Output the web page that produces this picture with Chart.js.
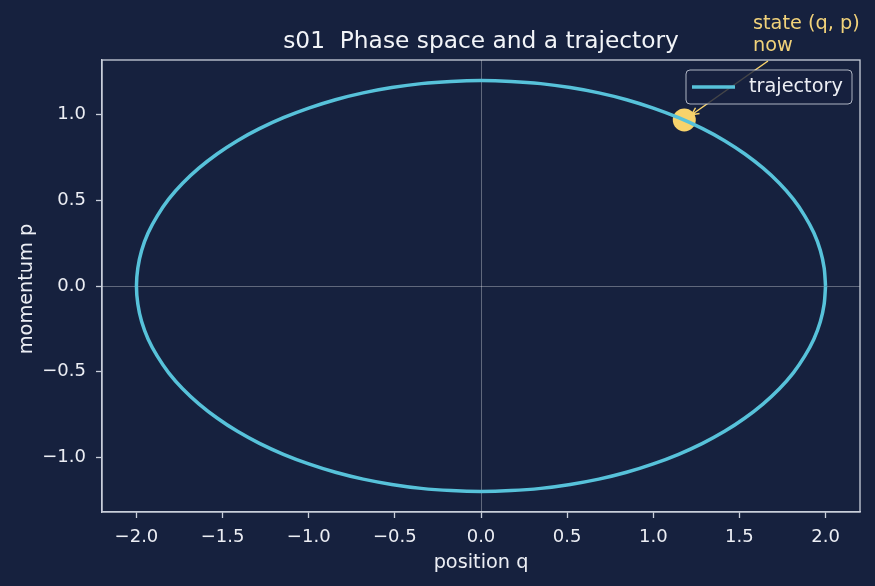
<!DOCTYPE html>
<html>
<head>
<meta charset="utf-8">
<script src="https://cdn.jsdelivr.net/npm/chart.js@4.4.1/dist/chart.umd.min.js"></script>
<style>
  html, body { margin: 0; padding: 0; background: #16213e; }
  canvas { display: block; }
</style>
</head>
<body>
<canvas id="c" width="875" height="586"></canvas>
<script>
// ---- data ----
const trajectoryQ = [
  2.000, 1.992, 1.970, 1.932, 1.879, 1.813, 1.732, 1.638, 1.532, 1.414, 1.286, 1.147, 1.000, 0.845, 0.684, 0.518, 0.347, 0.174, 0.000,
  -0.174, -0.347, -0.518, -0.684, -0.845, -1.000, -1.147, -1.286, -1.414, -1.532, -1.638, -1.732, -1.813, -1.879, -1.932, -1.970, -1.992, -2.000,
  -1.992, -1.970, -1.932, -1.879, -1.813, -1.732, -1.638, -1.532, -1.414, -1.286, -1.147, -1.000, -0.845, -0.684, -0.518, -0.347, -0.174, 0.000,
  0.174, 0.347, 0.518, 0.684, 0.845, 1.000, 1.147, 1.286, 1.414, 1.532, 1.638, 1.732, 1.813, 1.879, 1.932, 1.970, 1.992, 2.000
];
const trajectoryP = [
  0.000, 0.105, 0.208, 0.311, 0.410, 0.507, 0.600, 0.688, 0.771, 0.849, 0.919, 0.983, 1.039, 1.088, 1.128, 1.159, 1.182, 1.195, 1.200,
  1.195, 1.182, 1.159, 1.128, 1.088, 1.039, 0.983, 0.919, 0.849, 0.771, 0.688, 0.600, 0.507, 0.410, 0.311, 0.208, 0.105, 0.000,
  -0.105, -0.208, -0.311, -0.410, -0.507, -0.600, -0.688, -0.771, -0.849, -0.919, -0.983, -1.039, -1.088, -1.128, -1.159, -1.182, -1.195, -1.200,
  -1.195, -1.182, -1.159, -1.128, -1.088, -1.039, -0.983, -0.919, -0.849, -0.771, -0.688, -0.600, -0.507, -0.410, -0.311, -0.208, -0.105, 0.000
];
const stateQ = [1.18];
const stateP = [0.97];
const xTicks = [-2.0, -1.5, -1.0, -0.5, 0.0, 0.5, 1.0, 1.5, 2.0];
const yTicks = [-1.0, -0.5, 0.0, 0.5, 1.0];
const titleText = 's01  Phase space and a trajectory';
const xLabel = 'position q';
const yLabel = 'momentum p';
const legendLabel = 'trajectory';
const annotationLines = ['state (q, p)', 'now'];

// ---- styles ----
const BG = '#16213e';
const FG = '#eceef4';
const SPINE = '#c9cfdb';
const LINE = '#57c2da';
const DOT = '#f8d36b';
const FONT = '"DejaVu Sans", "Liberation Sans", sans-serif';
const LABEL_SIZE = 19.3;

const fmt = v => v.toFixed(1).replace('-', '\u2212');

const decor = {
  id: 'decor',
  beforeDraw(chart) {
    const ctx = chart.ctx;
    ctx.save();
    ctx.fillStyle = BG;
    ctx.fillRect(0, 0, chart.width, chart.height);
    ctx.restore();
  },
  beforeDatasetsDraw(chart) {
    const ctx = chart.ctx, a = chart.chartArea;
    const xs = chart.scales.x, ys = chart.scales.y;
    ctx.save();
    ctx.strokeStyle = 'rgba(255,255,255,0.32)';
    ctx.lineWidth = 1;
    const x0 = Math.round(xs.getPixelForValue(0)) + 0.5;
    const y0 = Math.round(ys.getPixelForValue(0)) + 0.5;
    ctx.beginPath();
    ctx.moveTo(x0, a.top); ctx.lineTo(x0, a.bottom);
    ctx.moveTo(a.left, y0); ctx.lineTo(a.right, y0);
    ctx.stroke();
    ctx.restore();
  },
  afterDraw(chart) {
    const ctx = chart.ctx, a = chart.chartArea;
    const xs = chart.scales.x, ys = chart.scales.y;
    ctx.save();
    // spines top / right
    ctx.strokeStyle = SPINE;
    ctx.lineWidth = 1.3;
    ctx.strokeRect(a.left, a.top, a.right - a.left, a.bottom - a.top);

    // title
    ctx.fillStyle = '#f2f4f8';
    ctx.font = '23.3px ' + FONT;
    ctx.textAlign = 'center';
    ctx.textBaseline = 'alphabetic';
    ctx.fillText(titleText, (a.left + a.right) / 2, 48);

    // axis titles
    ctx.fillStyle = FG;
    ctx.font = LABEL_SIZE + 'px ' + FONT;
    ctx.fillText(xLabel, (a.left + a.right) / 2, 568);
    ctx.save();
    ctx.translate(32, (a.top + a.bottom) / 2 + 3);
    ctx.rotate(-Math.PI / 2);
    ctx.fillText(yLabel, 0, 0);
    ctx.restore();

    // annotation arrow
    const px = xs.getPixelForValue(stateQ[0]);
    const py = ys.getPixelForValue(stateP[0]);
    const sx = 768, sy = 61;
    const ang = Math.atan2(py - sy, px - sx);
    const ex = px - Math.cos(ang) * 9, ey = py - Math.sin(ang) * 9;
    ctx.strokeStyle = DOT;
    ctx.lineWidth = 1.5;
    ctx.beginPath();
    ctx.moveTo(sx, sy); ctx.lineTo(ex, ey);
    const hl = 8, hw = 0.45;
    ctx.moveTo(ex + Math.cos(ang + Math.PI - hw) * hl, ey + Math.sin(ang + Math.PI - hw) * hl);
    ctx.lineTo(ex, ey);
    ctx.lineTo(ex + Math.cos(ang + Math.PI + hw) * hl, ey + Math.sin(ang + Math.PI + hw) * hl);
    ctx.stroke();

    // legend
    const lx = 686, ly = 70, lw = 166, lh = 34, r = 4;
    ctx.beginPath();
    ctx.moveTo(lx + r, ly);
    ctx.arcTo(lx + lw, ly, lx + lw, ly + lh, r);
    ctx.arcTo(lx + lw, ly + lh, lx, ly + lh, r);
    ctx.arcTo(lx, ly + lh, lx, ly, r);
    ctx.arcTo(lx, ly, lx + lw, ly, r);
    ctx.closePath();
    ctx.fillStyle = 'rgba(22,33,62,0.8)';
    ctx.fill();
    ctx.strokeStyle = 'rgba(201,207,219,0.85)';
    ctx.lineWidth = 1;
    ctx.stroke();
    ctx.strokeStyle = LINE;
    ctx.lineWidth = 3.5;
    ctx.beginPath();
    ctx.moveTo(692, 87); ctx.lineTo(735, 87);
    ctx.stroke();
    ctx.fillStyle = FG;
    ctx.font = LABEL_SIZE + 'px ' + FONT;
    ctx.textAlign = 'left';
    ctx.textBaseline = 'middle';
    ctx.fillText(legendLabel, 749, 87);

    // annotation text
    ctx.fillStyle = '#f1d27a';
    ctx.font = LABEL_SIZE + 'px ' + FONT;
    ctx.textBaseline = 'alphabetic';
    ctx.fillText(annotationLines[0], 753, 29);
    ctx.fillText(annotationLines[1], 753, 51);
    ctx.restore();
  }
};

const axisCommon = (ticks) => ({
  type: 'linear',
  afterBuildTicks: s => { s.ticks = ticks.map(v => ({ value: v })); },
  ticks: {
    color: FG,
    font: { family: FONT, size: 18 },
    callback: v => fmt(v),
    autoSkip: false,
    maxRotation: 0,
  },
  grid: {
    drawOnChartArea: false,
    drawTicks: true,
    tickLength: 6,
    tickWidth: 1.3,
    tickColor: SPINE,
  },
  border: { color: SPINE, width: 1.3 },
});

const xAxis = axisCommon(xTicks);
xAxis.position = 'bottom';
xAxis.min = -2.2; xAxis.max = 2.2;
xAxis.ticks.padding = 9;
xAxis.afterFit = s => { s.height = 74; };

const yAxis = axisCommon(yTicks);
yAxis.position = 'left';
yAxis.min = -1.32; yAxis.max = 1.32;
yAxis.ticks.padding = 10;
yAxis.afterFit = s => { s.width = 102; };

new Chart(document.getElementById('c'), {
  type: 'scatter',
  data: {
    datasets: [
      {
        label: legendLabel,
        data: trajectoryQ.map((q, i) => ({ x: q, y: trajectoryP[i] })),
        showLine: true,
        borderColor: LINE,
        borderWidth: 3.5,
        pointRadius: 0,
        tension: 0.3,
        fill: false,
      },
      {
        label: 'state',
        data: stateQ.map((q, i) => ({ x: q, y: stateP[i] })),
        showLine: false,
        pointRadius: 11.5,
        pointBackgroundColor: DOT,
        pointBorderWidth: 0,
      }
    ]
  },
  options: {
    responsive: false,
    animation: false,
    devicePixelRatio: 1,
    layout: { padding: { left: 0, top: 60, right: 15, bottom: 0 } },
    plugins: { legend: { display: false }, title: { display: false }, tooltip: { enabled: false } },
    scales: { x: xAxis, y: yAxis },
  },
  plugins: [decor],
});
</script>
</body>
</html>
